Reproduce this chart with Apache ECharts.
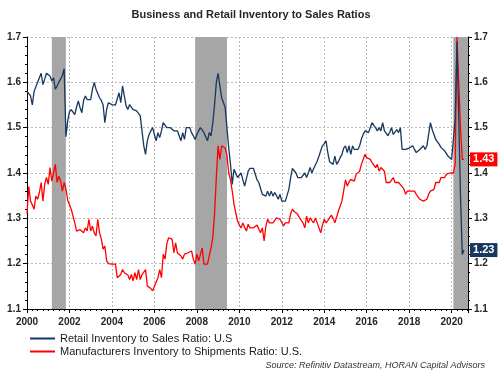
<!DOCTYPE html>
<html>
<head>
<meta charset="utf-8">
<script src="https://cdn.jsdelivr.net/npm/echarts@6/dist/echarts.min.js"></script>
<style>
  html, body { margin: 0; padding: 0; background: #fff; }
  #chart { width: 502px; height: 376px; }
</style>
</head>
<body>
<div id="chart"></div>
<script>
// monthly data, Jan 2000 onwards
var startYear = 2000;

var retailRatio = [
  1.58,1.577,1.57,1.55,1.58,1.59,1.60,1.60,1.62,1.595,1.607,1.62,
  1.62,1.614,1.603,1.61,1.585,1.592,1.60,1.60,1.615,1.63,1.48,1.515,
  1.535,1.54,1.54,1.529,1.545,1.559,1.544,1.533,1.56,1.57,1.562,1.562,
  1.562,1.585,1.60,1.585,1.588,1.566,1.56,1.55,1.511,1.54,1.555,1.551,
  1.551,1.551,1.55,1.548,1.577,1.555,1.592,1.588,1.548,1.54,1.551,1.545,
  1.54,1.544,1.537,1.54,1.526,1.493,1.46,1.441,1.471,1.485,1.493,1.50,
  1.485,1.471,1.489,1.478,1.493,1.511,1.511,1.50,1.50,1.50,1.50,1.493,
  1.493,1.493,1.493,1.471,1.489,1.474,1.50,1.50,1.50,1.489,1.482,1.474,
  1.485,1.493,1.50,1.495,1.489,1.493,1.471,1.489,1.482,1.51,1.55,1.60,
  1.62,1.592,1.566,1.57,1.545,1.50,1.455,1.42,1.375,1.408,1.404,1.39,
  1.395,1.40,1.385,1.371,1.375,1.404,1.41,1.412,1.41,1.408,1.385,1.379,
  1.375,1.353,1.357,1.349,1.36,1.349,1.36,1.349,1.357,1.35,1.342,1.353,
  1.338,1.338,1.338,1.338,1.364,1.39,1.41,1.405,1.40,1.39,1.39,1.39,
  1.395,1.40,1.39,1.40,1.412,1.40,1.41,1.412,1.426,1.437,1.449,1.46,
  1.465,1.471,1.445,1.425,1.423,1.419,1.437,1.419,1.425,1.434,1.441,1.455,
  1.46,1.445,1.46,1.441,1.46,1.452,1.452,1.452,1.46,1.475,1.485,1.493,
  1.49,1.489,1.50,1.511,1.505,1.50,1.493,1.50,1.493,1.511,1.493,1.488,
  1.482,1.49,1.50,1.485,1.49,1.496,1.489,1.50,1.452,1.452,1.452,1.452,
  1.455,1.458,1.46,1.452,1.445,1.441,1.452,1.456,1.46,1.452,1.46,1.46,
  1.511,1.496,1.50,1.474,1.471,1.463,1.456,1.46,1.449,1.449,1.437,1.435,
  1.43,1.43,1.52,1.69,1.52,1.35,1.22,1.23
];

var mfgRatio = [
  1.31,1.37,1.338,1.33,1.32,1.349,1.342,1.357,1.379,1.338,1.375,1.39,
  1.375,1.412,1.382,1.40,1.419,1.379,1.393,1.382,1.36,1.379,1.365,1.34,
  1.33,1.32,1.305,1.29,1.272,1.268,1.275,1.279,1.268,1.279,1.272,1.298,
  1.272,1.283,1.268,1.261,1.298,1.268,1.254,1.232,1.239,1.206,1.20,1.199,
  1.199,1.199,1.199,1.169,1.172,1.176,1.187,1.18,1.184,1.175,1.165,1.176,
  1.162,1.18,1.165,1.187,1.165,1.176,1.18,1.187,1.151,1.147,1.145,1.14,
  1.15,1.154,1.169,1.187,1.169,1.221,1.21,1.243,1.257,1.255,1.254,1.224,
  1.246,1.224,1.22,1.217,1.21,1.221,1.222,1.224,1.226,1.228,1.21,1.199,
  1.221,1.206,1.22,1.235,1.199,1.199,1.199,1.199,1.235,1.257,1.31,1.39,
  1.46,1.43,1.46,1.46,1.455,1.44,1.40,1.385,1.36,1.331,1.33,1.294,
  1.285,1.279,1.29,1.28,1.272,1.287,1.279,1.279,1.279,1.279,1.285,1.287,
  1.268,1.279,1.25,1.283,1.298,1.29,1.29,1.29,1.29,1.301,1.30,1.298,
  1.298,1.283,1.29,1.29,1.29,1.31,1.32,1.315,1.312,1.309,1.301,1.298,
  1.29,1.279,1.305,1.29,1.301,1.295,1.29,1.301,1.29,1.287,1.268,1.285,
  1.298,1.29,1.295,1.298,1.307,1.30,1.29,1.303,1.316,1.316,1.338,1.342,
  1.385,1.371,1.38,1.386,1.39,1.382,1.397,1.40,1.404,1.419,1.43,1.441,
  1.434,1.43,1.43,1.423,1.423,1.412,1.419,1.404,1.412,1.412,1.404,1.379,
  1.379,1.379,1.379,1.39,1.379,1.379,1.379,1.379,1.37,1.365,1.353,1.36,
  1.36,1.36,1.36,1.36,1.353,1.35,1.342,1.34,1.338,1.342,1.342,1.353,
  1.36,1.362,1.364,1.379,1.379,1.379,1.39,1.39,1.39,1.397,1.40,1.40,
  1.40,1.40,1.42,1.70,1.60,1.50,1.43,1.43
];

// recession shading (decimal years)
var recessions = [[2001.17, 2001.83], [2007.92, 2009.42], [2020.08, 2020.77]];

var seriesNames = ['Retail Inventory to Sales Ratio: U.S', 'Manufacturers Inventory to Shipments Ratio: U.S.'];

function toPairs(arr) {
  var out = [];
  for (var i = 0; i < arr.length; i++) {
    out.push([startYear + i / 12, arr[i]]);
  }
  return out;
}

var chart = echarts.init(document.getElementById('chart'));

var axisFont = { fontFamily: 'Liberation Sans', fontSize: 10, fontWeight: 'bold', color: '#262626' };

function yAxisCfg(pos) {
  return {
    type: 'value',
    position: pos,
    min: 1.1,
    max: 1.7,
    interval: 0.1,
    axisLine: { show: true, lineStyle: { color: '#000', width: 1 } },
    axisTick: { show: true, length: 4, lineStyle: { color: '#000' } },
    minorTick: { show: true, splitNumber: 5, length: 2, lineStyle: { color: '#000' } },
    axisLabel: Object.assign({ margin: 6, formatter: function (v) { return v.toFixed(1); } }, axisFont),
    splitLine: pos === 'left' ? { show: true, lineStyle: { color: '#b8b8b8', type: [2, 2] } } : { show: false }
  };
}

var markData = recessions.map(function (r) {
  return [{ xAxis: r[0] }, { xAxis: r[1] }];
});

chart.setOption({
  animation: false,
  title: [
    {
      text: 'Business and Retail Inventory to Sales Ratios',
      left: 'center',
      top: 4,
      textStyle: { fontFamily: 'Liberation Sans', fontSize: 11, fontWeight: 'bold', color: '#262626' }
    },
    {
      text: 'Source: Refinitiv Datastream, HORAN Capital Advisors',
      right: 12,
      bottom: 1,
      textStyle: { fontFamily: 'Liberation Sans', fontSize: 9, fontStyle: 'italic', fontWeight: 'normal', color: '#333' }
    }
  ],
  grid: { left: 27, right: 34, top: 37, bottom: 67 },
  legend: {
    data: seriesNames,
    orient: 'vertical',
    left: 30,
    top: 332,
    icon: 'rect',
    itemWidth: 25,
    itemHeight: 2,
    itemGap: 0,
    padding: 0,
    textStyle: { fontFamily: 'Liberation Sans', fontSize: 11, color: '#1a1a1a', lineHeight: 13 }
  },
  xAxis: {
    type: 'value',
    min: 2000,
    max: 2020.77,
    interval: 2,
    axisLine: { show: true, onZero: false, lineStyle: { color: '#000' } },
    axisTick: { show: true, length: 4, lineStyle: { color: '#000' } },
    minorTick: { show: true, splitNumber: 8, length: 2, lineStyle: { color: '#000' } },
    axisLabel: Object.assign({ margin: 8, showMaxLabel: false, formatter: function (v) { return String(Math.round(v)); } }, axisFont),
    splitLine: { show: true, lineStyle: { color: '#b8b8b8', type: [2, 2] } }
  },
  yAxis: [yAxisCfg('left'), yAxisCfg('right')],
  series: [
    {
      name: 'recessions',
      type: 'line',
      data: [],
      z: 1,
      markArea: {
        silent: true,
        itemStyle: { color: '#a6a6a6', opacity: 1 },
        data: markData
      }
    },
    {
      name: seriesNames[1],
      type: 'line',
      data: toPairs(mfgRatio),
      showSymbol: false,
      z: 3,
      lineStyle: { color: '#ff0000', width: 1.3 },
      itemStyle: { color: '#ff0000' },
      endLabel: {
        show: true,
        distance: 6,
        formatter: function (p) { return p.value[1].toFixed(2); },
        backgroundColor: '#ff0000',
        color: '#fff',
        fontFamily: 'Liberation Sans',
        fontWeight: 'bold',
        fontSize: 11,
        padding: [2, 3, 1, 3]
      }
    },
    {
      name: seriesNames[0],
      type: 'line',
      data: toPairs(retailRatio),
      showSymbol: false,
      z: 4,
      lineStyle: { color: '#17375e', width: 1.3 },
      itemStyle: { color: '#17375e' },
      endLabel: {
        show: true,
        distance: 6,
        formatter: function (p) { return p.value[1].toFixed(2); },
        backgroundColor: '#17375e',
        color: '#fff',
        fontFamily: 'Liberation Sans',
        fontWeight: 'bold',
        fontSize: 11,
        padding: [2, 3, 1, 3]
      }
    }
  ]
});
</script>
</body>
</html>
